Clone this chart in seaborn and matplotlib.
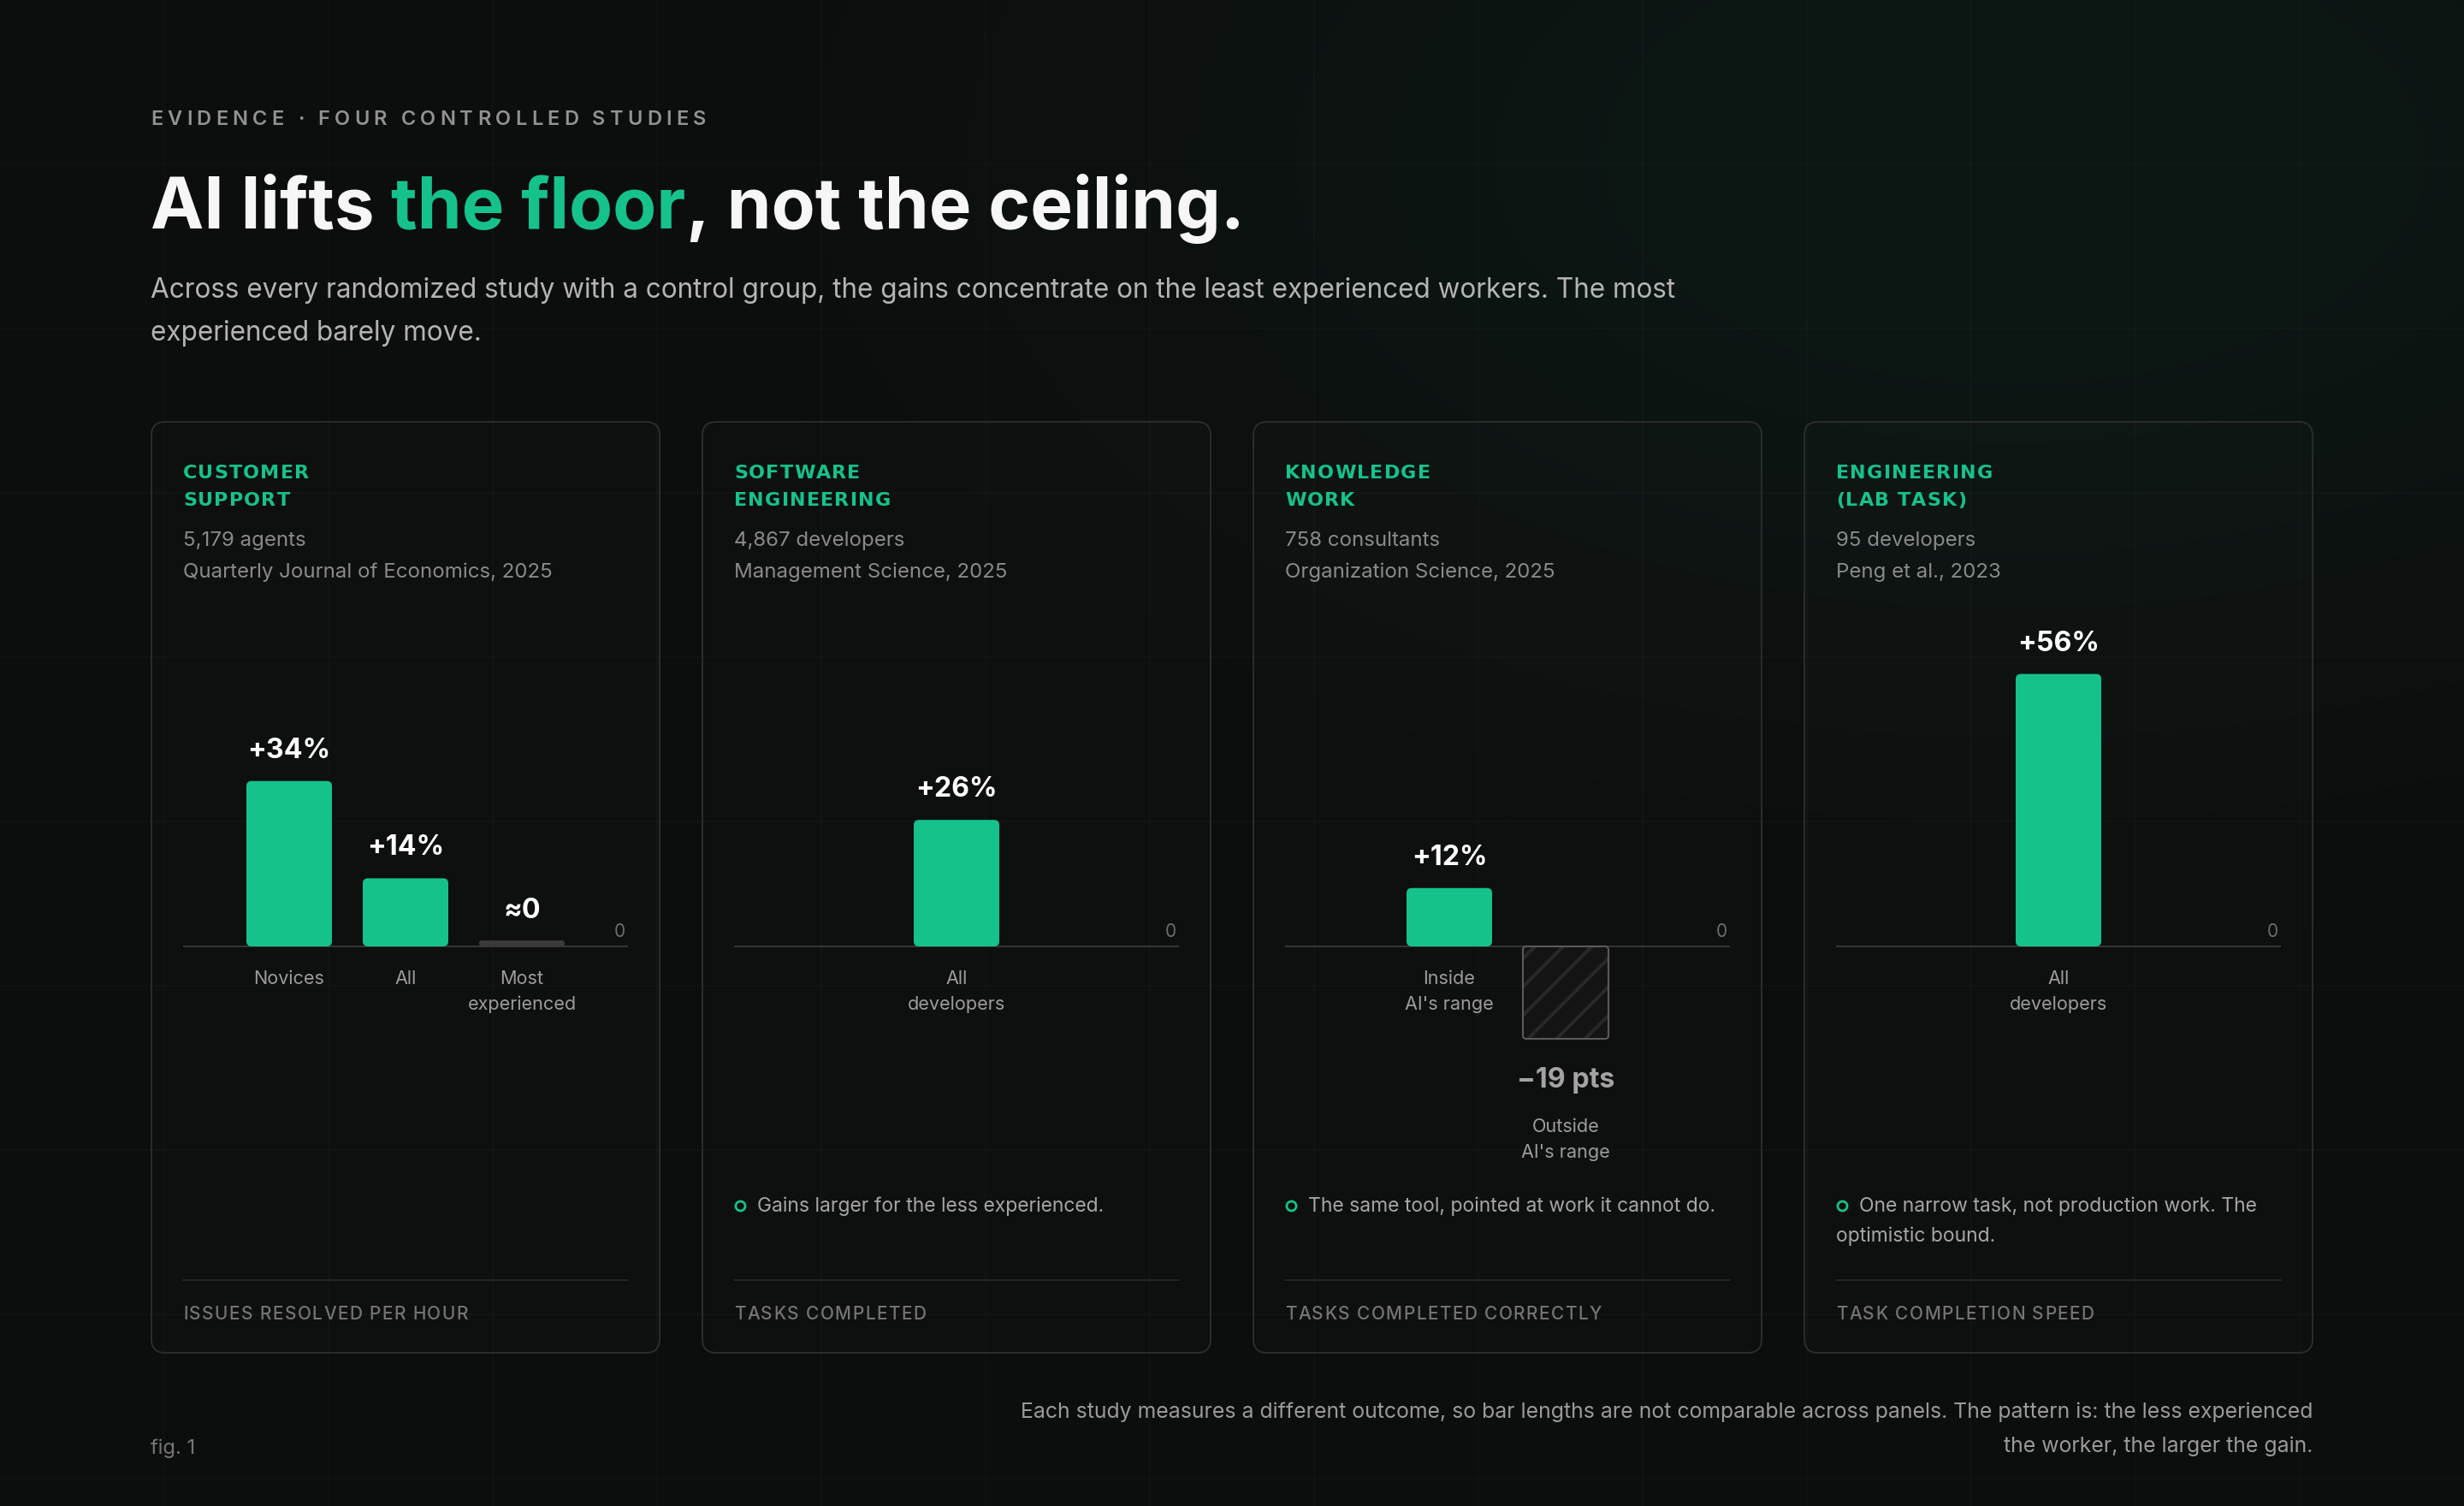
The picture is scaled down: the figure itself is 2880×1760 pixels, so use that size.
import numpy as np
import pandas as pd
import matplotlib
matplotlib.use("Agg")
import matplotlib.pyplot as plt
import seaborn as sns
from matplotlib import font_manager as fm
from matplotlib.patches import FancyBboxPatch

# ---------------- data ----------------
eyebrow = "EVIDENCE · FOUR CONTROLLED STUDIES"
title_lead = "AI lifts"
title_accent = "the floor"
title_tail = ", not the ceiling."
subtitle_lines = [
    "Across every randomized study with a control group, the gains concentrate on the least experienced workers. The most",
    "experienced barely move.",
]
panel_titles = [["CUSTOMER", "SUPPORT"], ["SOFTWARE", "ENGINEERING"],
                ["KNOWLEDGE", "WORK"], ["ENGINEERING", "(LAB TASK)"]]
panel_samples = ["5,179 agents", "4,867 developers", "758 consultants", "95 developers"]
panel_sources = ["Quarterly Journal of Economics, 2025", "Management Science, 2025",
                 "Organization Science, 2025", "Peng et al., 2023"]

support_groups = ["Novices", "All", "Most\nexperienced"]
support_values = [34, 14, 0]
support_labels = ["+34%", "+14%", "≈0"]

software_groups = ["All\ndevelopers"]
software_values = [26]
software_labels = ["+26%"]

knowledge_groups = ["Inside\nAI's range", "Outside\nAI's range"]
knowledge_values = [12, -19]
knowledge_labels = ["+12%", "−19 pts"]

lab_groups = ["All\ndevelopers"]
lab_values = [56]
lab_labels = ["+56%"]

panel_notes = [[], ["Gains larger for the less experienced."],
               ["The same tool, pointed at work it cannot do."],
               ["One narrow task, not production work. The", "optimistic bound."]]
panel_metrics = ["ISSUES RESOLVED PER HOUR", "TASKS COMPLETED",
                 "TASKS COMPLETED CORRECTLY", "TASK COMPLETION SPEED"]
footnote_lines = [
    "Each study measures a different outcome, so bar lengths are not comparable across panels. The pattern is: the less experienced",
    "the worker, the larger the gain.",
]
fig_label = "fig. 1"

# ---------------- style ----------------
sns.set_theme(style="white")
FAM = ["Inter", "DejaVu Sans"]
plt.rcParams["font.family"] = FAM
plt.rcParams["hatch.linewidth"] = 3.0

BG = "#0d0d0d"
GREEN = "#16c28c"
WHITE = "#f6f6f6"
EYEBROW_C = "#929292"
SUB_C = "#b4b4b4"
META_C = "#8a8a8a"
CAT_C = "#9c9c9c"
NOTE_C = "#a6a6a6"
METRIC_C = "#747474"
FOOT_C = "#9a9a9a"
FIG_C = "#767676"
TICK_C = "#6c6c6c"
NEG_C = "#a3a3a3"
AXIS_C = "#3d3d3d"
SEP_C = "#262626"
BORDER_C = "#2c2c2c"
STUB_C = "#3a3a3a"
HATCH_BG = "#141414"
HATCH_LINE = "#282828"
HATCH_EDGE = "#5a5a5a"

W, H = 2880, 1760
fig = plt.figure(figsize=(W / 100, H / 100), dpi=100, facecolor=BG)
renderer = fig.canvas.get_renderer()

# background axes in pixel coordinates (y down)
bg = fig.add_axes([0, 0, 1, 1], zorder=0)
bg.set_axis_off()
ys, xs = np.mgrid[0:H:8, 0:W:8].astype(float)
glow = np.exp(-0.5 * (((xs - 2350) / 760) ** 2 + ((ys - 180) / 420) ** 2))
base = np.array([13, 13, 13]) / 255
tint = np.array([-1.0, 11.0, 7.5]) / 255
img = np.clip(base + glow[..., None] * tint, 0, 1)
bg.imshow(img, extent=(0, W, H, 0), aspect="auto", interpolation="bilinear", zorder=0)
bg.set_xlim(0, W)
bg.set_ylim(H, 0)
for gx in range(192, W, 192):
    bg.plot([gx, gx], [0, H], color="white", alpha=0.028, lw=1.1, zorder=1)
for gy in range(192, H, 192):
    bg.plot([0, W], [gy, gy], color="white", alpha=0.028, lw=1.1, zorder=1)


def width_of(s, size, family=FAM, weight="normal"):
    t = fig.text(0, 0, s, fontsize=size, family=family, fontweight=weight)
    w = t.get_window_extent(renderer).width
    t.remove()
    return w


def fit(s, target, family=FAM, weight="normal", base_size=20.0):
    return base_size * target / width_of(s, base_size, family, weight)


def txt(x, y, s, size, color, weight="normal", ha="left", family=FAM):
    bg.text(x, y, s, fontsize=size, color=color, fontweight=weight, ha=ha,
            va="baseline", family=family, zorder=5)


def advances(s, size, family, weight):
    fp = fm.FontProperties(family=family, weight=weight, size=size)
    font = fm.get_font(fm.findfont(fp))
    font.set_size(size, 100)
    return fp, [font.load_char(ord(c)).linearHoriAdvance / 65536 for c in s]


def tracking_for(s, size, family, weight, width):
    _, adv = advances(s, size, family, weight)
    return (width - sum(adv)) / (len(s) - 1)


def tracked(x, y, s, size, family, weight, color, track):
    fp, adv = advances(s, size, family, weight)
    cur = x
    for c, a in zip(s, adv):
        if c.strip():
            bg.text(cur, y, c, fontproperties=fp, color=color, va="baseline",
                    ha="left", zorder=5)
        cur += a + track


# ---------------- header ----------------
eb_size = 17
eb_track = tracking_for(eyebrow, eb_size, "Inter", "semibold", 649)
tracked(176, 146, eyebrow, eb_size, "Inter", "semibold", EYEBROW_C, eb_track)

title_full = title_lead + " " + title_accent + title_tail
t_size = fit(title_full, 1279, weight="bold", base_size=60)
w_full = width_of(title_full, t_size, weight="bold")
w_pref = width_of(title_lead + " " + title_accent, t_size, weight="bold")
w_acc = width_of(title_accent, t_size, weight="bold")
w_tail = width_of(title_tail, t_size, weight="bold")
TX, TY = 176, 267
txt(TX, TY, title_lead, t_size, WHITE, "bold")
txt(TX + w_pref - w_acc, TY, title_accent, t_size, GREEN, "bold")
txt(TX + w_full - w_tail, TY, title_tail, t_size, WHITE, "bold")

s_size = fit(subtitle_lines[0], 1786)
txt(176, 348, subtitle_lines[0], s_size, SUB_C)
txt(176, 398, subtitle_lines[1], s_size, SUB_C)

# ---------------- panels ----------------
PANEL_X = [177, 821, 1465, 2109]
PANEL_W = 594
PANEL_TOP, PANEL_BOT = 493, 1581
PAD = 37
INNER_W = PANEL_W - 2 * PAD
AX_TOP, AX_BOT = 700, 1400
BASE = 1106
SCALE = 5.685          # pixels per percentage point
SLOT_PX = 136
BAR_FRAC = 100 / 136
STUB_PX = 7

meta_size = fit("Quarterly Journal of Economics, 2025", 432)
cat_size = fit("experienced", 127)
val_size = fit("+34%", 97, weight="bold")
note_size = fit("Gains larger for the less experienced.", 406)
head_size = 16.0
head_track = tracking_for("CUSTOMER", head_size, "DejaVu Sans", "bold", 147)
met_size = 15.0
met_track = tracking_for("ISSUES RESOLVED PER HOUR", met_size, "Inter", "medium", 333)

for i, px in enumerate(PANEL_X):
    bg.add_patch(FancyBboxPatch((px, PANEL_TOP), PANEL_W, PANEL_BOT - PANEL_TOP,
                                boxstyle="round,pad=0,rounding_size=16",
                                fc=(1, 1, 1, 0.012), ec=BORDER_C, lw=1.4, zorder=2))
    il = px + PAD
    ir = px + PANEL_W - PAD
    for k, line in enumerate(panel_titles[i]):
        tracked(il, 559 + 32 * k, line, head_size, "DejaVu Sans", "bold", GREEN, head_track)
    txt(il, 638, panel_samples[i], meta_size, META_C)
    txt(il, 675, panel_sources[i], meta_size, META_C)
    notes = panel_notes[i]
    if notes:
        bg.plot([il + 7], [1409], marker="o", ms=8, mfc="none", mec=GREEN, mew=2.0, zorder=5)
        txt(il + 27, 1416, notes[0], note_size, NOTE_C)
        for k, line in enumerate(notes[1:]):
            txt(il, 1451 + 35 * k, line, note_size, NOTE_C)
    bg.plot([il, ir], [1496, 1496], color=SEP_C, lw=1.4, zorder=3)
    tracked(il, 1542, panel_metrics[i], met_size, "Inter", "medium", METRIC_C, met_track)

# ---------------- charts ----------------
ASP = SLOT_PX / SCALE


def rbar(ax, x, y, w, h, r_px, **kw):
    r = min(r_px / SLOT_PX, w / 2, h / ASP / 2)
    p = FancyBboxPatch((x, y), w, h, boxstyle=f"round,pad=0,rounding_size={r}",
                       mutation_aspect=ASP, **kw)
    ax.add_patch(p)
    return p


def ann(ax, s, xy, dy, size, color, weight="normal", ha="center", dx=0, xycoords="data"):
    ax.annotate(s, xy=xy, xycoords=xycoords, xytext=(dx, dy), textcoords="offset pixels",
                ha=ha, va="baseline", fontsize=size, color=color, fontweight=weight,
                family=FAM, annotation_clip=False, zorder=6)


def draw_chart(i, groups, values, labels):
    left = PANEL_X[i] + PAD
    ax = fig.add_axes([left / W, 1 - AX_BOT / H, INNER_W / W, (AX_BOT - AX_TOP) / H], zorder=3)
    df = pd.DataFrame({"group": groups, "value": values})
    colors = [GREEN if v > 0 else (STUB_C if v == 0 else HATCH_BG) for v in values]
    sns.barplot(data=df, x="group", y="value", hue="group", order=groups, hue_order=groups,
                palette=colors, width=BAR_FRAC, saturation=1, errorbar=None, legend=False, ax=ax)
    n = len(groups)
    c = (n - 1) / 2
    half = INNER_W / SLOT_PX / 2
    ax.set_xlim(c - half, c + half)
    ax.set_ylim(-(AX_BOT - BASE) / SCALE, (BASE - AX_TOP) / SCALE)
    ax.set_axis_off()
    ax.axhline(0, color=AXIS_C, lw=1.2, zorder=1)
    ann(ax, "0", (1, 0), 11, 15, TICK_C, ha="right", dx=-3,
        xycoords=("axes fraction", "data"))
    bars = sorted(ax.patches, key=lambda p: p.get_x())
    for bar, v, lab, grp in zip(bars, values, labels, groups):
        x0, w = bar.get_x(), bar.get_width()
        y0, h = bar.get_y(), bar.get_height()
        fc = bar.get_facecolor()
        bar.remove()
        xc = x0 + w / 2
        lines = grp.split("\n")
        if v > 0:
            rbar(ax, x0, y0, w, h, 6, fc=fc, lw=0, zorder=2)
            ann(ax, lab, (xc, h), 27, val_size, "white", "bold")
            for k, line in enumerate(lines):
                ann(ax, line, (xc, 0), -44 - 30 * k, cat_size, CAT_C)
        elif v == 0:
            hh = STUB_PX / SCALE
            rbar(ax, x0, 0, w, hh, 3.5, fc=fc, lw=0, zorder=2)
            ann(ax, lab, (xc, hh), 26, val_size, "white", "bold")
            for k, line in enumerate(lines):
                ann(ax, line, (xc, 0), -44 - 30 * k, cat_size, CAT_C)
        else:
            bottom = min(y0, y0 + h)
            hh = abs(h)
            rbar(ax, x0, bottom, w, hh, 4, fc=fc, ec=HATCH_LINE, lw=0, hatch="/", zorder=2)
            rbar(ax, x0, bottom, w, hh, 4, fill=False, ec=HATCH_EDGE, lw=1.5, zorder=3)
            ann(ax, lab, (xc, bottom), -57, val_size, NEG_C, "bold")
            for k, line in enumerate(lines):
                ann(ax, line, (xc, bottom), -109 - 30 * k, cat_size, CAT_C)


draw_chart(0, support_groups, support_values, support_labels)
draw_chart(1, software_groups, software_values, software_labels)
draw_chart(2, knowledge_groups, knowledge_values, knowledge_labels)
draw_chart(3, lab_groups, lab_values, lab_labels)

# ---------------- footer ----------------
f_size = fit(footnote_lines[0], 1510)
txt(2703, 1657, footnote_lines[0], f_size, FOOT_C, ha="right")
txt(2703, 1697, footnote_lines[1], f_size, FOOT_C, ha="right")
txt(176, 1699, fig_label, fit(fig_label, 52), FIG_C)

fig.savefig("out.png", dpi=100, facecolor=BG)
